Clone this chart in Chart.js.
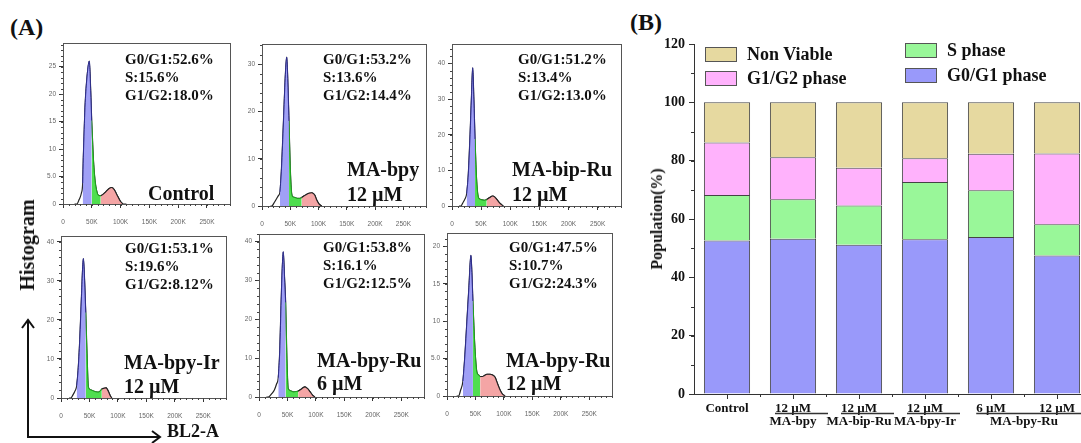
<!DOCTYPE html>
<html><head><meta charset="utf-8">
<script src="https://cdn.jsdelivr.net/npm/chart.js@4.4.1/dist/chart.umd.min.js"></script>
<style>
html,body{margin:0;padding:0;background:#fff;}
body{width:1081px;height:443px;overflow:hidden;position:relative;font-family:"Liberation Serif","Times New Roman",serif;}
canvas{position:absolute;}
.t{position:absolute;font-weight:bold;color:#111;white-space:nowrap;}
.st{font-size:15px;line-height:18px;}
.big{font-size:20px;line-height:25px;}
.sw{position:absolute;border:1px solid #555;box-sizing:border-box;width:32px;height:15px;}
.lg{position:absolute;font-weight:bold;font-size:18px;line-height:1;color:#111;white-space:nowrap;}
</style></head><body>
<div class="t" style="left:10px;top:15px;font-size:24px;line-height:1;">(A)</div>
<div class="t" style="left:630px;top:10px;font-size:24px;line-height:1;">(B)</div>

<canvas id="h1"></canvas><canvas id="h2"></canvas><canvas id="h3"></canvas>
<canvas id="h4"></canvas><canvas id="h5"></canvas><canvas id="h6"></canvas>
<canvas id="bars"></canvas>

<div class="t st" style="left:125px;top:50px;">G0/G1:52.6%<br>S:15.6%<br>G1/G2:18.0%</div>
<div class="t st" style="left:323px;top:50px;">G0/G1:53.2%<br>S:13.6%<br>G1/G2:14.4%</div>
<div class="t st" style="left:518px;top:50px;">G0/G1:51.2%<br>S:13.4%<br>G1/G2:13.0%</div>
<div class="t st" style="left:125px;top:239px;">G0/G1:53.1%<br>S:19.6%<br>G1/G2:8.12%</div>
<div class="t st" style="left:323px;top:238px;">G0/G1:53.8%<br>S:16.1%<br>G1/G2:12.5%</div>
<div class="t st" style="left:509px;top:238px;">G0/G1:47.5%<br>S:10.7%<br>G1/G2:24.3%</div>

<div class="t big" style="left:148px;top:181px;">Control</div>
<div class="t big" style="left:347px;top:157px;">MA-bpy<br>12 µM</div>
<div class="t big" style="left:512px;top:157px;">MA-bip-Ru<br>12 µM</div>
<div class="t big" style="left:124px;top:350px;line-height:24px;">MA-bpy-Ir<br>12 µM</div>
<div class="t big" style="left:317px;top:349px;line-height:23px;">MA-bpy-Ru<br>6 µM</div>
<div class="t big" style="left:506px;top:349px;line-height:23px;">MA-bpy-Ru<br>12 µM</div>

<div class="t" style="left:27px;top:245px;font-size:20px;line-height:1;transform:translate(-50%,-50%) rotate(-90deg);">Histogram</div>
<div class="t" style="left:167px;top:422px;font-size:18px;line-height:1;">BL2-A</div>
<svg style="position:absolute;left:0;top:0;" width="200" height="443">
  <polyline points="28,320 28,437 160,437" fill="none" stroke="#111" stroke-width="2"/>
  <polyline points="22,328 28,320 34,328" fill="none" stroke="#111" stroke-width="2"/>
  <polyline points="152,431 160,437 152,443" fill="none" stroke="#111" stroke-width="2"/>
</svg>
<div class="t" style="left:657px;top:219px;font-size:16px;line-height:1;transform:translate(-50%,-50%) rotate(-90deg);">Population(%)</div>
<div id="legend"></div>

<script>
// ---------- Panel A: histogram data (x in K of BL2-A, y = count) ----------
const ctrlX = [20, 24, 28, 32, 34.2, 35.3, 38.2, 41.1, 45.7, 48.1, 49.8, 52.6, 55.6, 58.5, 61.3, 65.5, 70, 75, 80, 84.6, 89, 94, 99, 104, 110];
const ctrlY = [0, 0, 0.8, 2, 3.8, 8.5, 17.6, 22.4, 26, 20.6, 15.2, 8.5, 4.3, 2.4, 1.6, 1.5, 1.8, 2.3, 2.8, 3, 2.6, 1.6, 0.6, 0, 0];
const ctrlGates = [34.2, 49.8, 65.5, 104];

const bpyX = [15, 17.2, 22, 26, 29, 31.8, 34.5, 38, 41, 43.7, 45.5, 47.7, 50, 52.5, 55, 58.3, 63, 67.2, 70.2, 74, 77.8, 83, 87.9, 91, 93.7, 97, 101, 105.6];
const bpyY = [0, 0, 0.8, 1.6, 2.2, 3, 8, 18, 27, 31.5, 27, 18, 8, 2.6, 1.9, 1.8, 1.6, 1.6, 1.8, 2.1, 2.4, 2.7, 2.8, 2.6, 2.2, 1.2, 0.4, 0];
const bpyGates = [31.8, 47.7, 70.2, 105.6];

const bipX = [12, 14.9, 19, 22.3, 25.2, 28, 31, 33.5, 35.5, 37.5, 39.5, 42, 45.1, 48, 51.5, 55.5, 59.5, 64, 69.8, 73.5, 77.2, 82, 88];
const bipY = [0, 0, 1, 2, 3.5, 9, 20, 31, 38.8, 30, 18.8, 8, 2.5, 1.9, 1.7, 1.6, 1.8, 2.3, 2.8, 2.5, 1.8, 0.8, 0];
const bipGates = [25.2, 39.5, 59.5, 88];

const irX = [14, 17.1, 21, 24, 26.4, 27.6, 30, 33, 36, 39.3, 41.5, 43.5, 46, 48.1, 52, 56.9, 61, 65.7, 69, 71.7, 75.5, 79.2, 81.5, 83.6, 86.5, 89.3];
const irY = [0, 0, 0.8, 1.6, 2.4, 3.2, 7, 15, 26, 35.7, 30, 21.9, 10, 2.8, 2.1, 1.8, 1.6, 1.5, 1.8, 2.3, 2.5, 2.6, 2.2, 1.6, 0.6, 0];
const irGates = [27.6, 43.5, 71.7, 89.3];

const ru6X = [13, 16.3, 22, 27, 31, 33.9, 36.5, 39, 42.6, 44.8, 46.8, 49, 51.4, 55.5, 60.2, 64.5, 68.9, 74, 77.5, 80.7, 85, 89.5, 94, 98.2];
const ru6Y = [0, 0, 0.8, 1.8, 3.4, 5, 12, 25, 37.4, 31, 24.4, 10, 2.1, 1.6, 1.3, 1.4, 1.5, 2, 2.4, 2.6, 2.2, 1.4, 0.5, 0];
const ru6Gates = [33.9, 46.8, 68.9, 98.2];

const ru12X = [17, 20.3, 24, 28, 31.5, 35, 38.5, 42, 43.7, 45.5, 49, 52.5, 55.5, 58.3, 62, 66, 70, 75.8, 80, 84.5, 89, 93.3, 97, 102];
const ru12Y = [0, 0, 0.8, 2, 5.5, 10, 14.5, 18.8, 16.5, 12.7, 6.5, 3.2, 2.8, 2.6, 2.6, 2.75, 2.9, 2.9, 2.8, 2.5, 1.6, 0.8, 0.3, 0];
const ru12Gates = [28, 45.5, 58.3, 102];

const histXTicks = [0, 50, 100, 150, 200, 250];

// ---------- Panel B: stacked bar data ----------
const categories = ['Control', '12 µM', '12 µM', '12 µM', '6 µM', '12 µM'];
const g0g1 = [52.6, 53.2, 51.2, 53.1, 53.8, 47.5];
const sPhase = [15.6, 13.6, 13.4, 19.6, 16.1, 10.7];
const g1g2 = [18.0, 14.4, 13.0, 8.12, 12.5, 24.3];
const nonViable = [13.8, 18.8, 22.4, 19.18, 17.6, 17.5];
const groupLabels = ['MA-bpy', 'MA-bip-Ru', 'MA-bpy-Ir', 'MA-bpy-Ru'];
const groupStart = [1, 2, 3, 4];
const groupEnd = [1, 2, 3, 5];
const barYTicks = [0, 20, 40, 60, 80, 100, 120];

// ---------- plugins ----------
const minorTicks = {
  id: 'minorTicks',
  afterDraw(chart, args, o) {
    const ctx = chart.ctx, ca = chart.chartArea;
    ctx.save(); ctx.strokeStyle = o.color || '#333'; ctx.lineWidth = 1;
    ['x', 'y'].forEach(k => {
      const step = o[k]; if (!step) return;
      const sc = chart.scales[k]; const len = o.len || 2;
      const ps = [];
      if (sc.type === 'category') {
        const n = sc.getLabels().length;
        for (let i = 1; i < n; i++) ps.push((sc.getPixelForValue(i - 1) + sc.getPixelForValue(i)) / 2);
      } else {
        const n = Math.floor((sc.max - sc.min) / step + 1e-6);
        for (let i = 0; i <= n; i++) ps.push(sc.getPixelForValue(sc.min + i * step));
      }
      ps.forEach(p => {
        p = Math.round(p) + 0.5;
        ctx.beginPath();
        if (k === 'x') { ctx.moveTo(p, ca.bottom); ctx.lineTo(p, ca.bottom + len); }
        else { ctx.moveTo(ca.left - len, p); ctx.lineTo(ca.left, p); }
        ctx.stroke();
      });
    });
    ctx.restore();
  }
};
const frame = {
  id: 'frame',
  afterDatasetsDraw(chart, args, o) {
    if (!o.on) return;
    const ctx = chart.ctx, ca = chart.chartArea;
    ctx.save(); ctx.strokeStyle = '#555'; ctx.lineWidth = 1;
    ctx.strokeRect(Math.round(ca.left) + 0.5, Math.round(ca.top) + 0.5, Math.round(ca.right - ca.left), Math.round(ca.bottom - ca.top));
    ctx.restore();
  }
};

function place(canvas, left, top, w, h) {
  canvas.width = w; canvas.height = h;
  canvas.style.left = left + 'px'; canvas.style.top = top + 'px';
  canvas.style.width = w + 'px'; canvas.style.height = h + 'px';
}

const sansTick = { family: '"Liberation Sans", Arial, sans-serif', size: 6.5 };

function histChart(id, box, xs, ys, gates, yMax, yStep) {
  const [L, T, R, B] = box;
  const padL = 30, padT = 6, padR = 6, padB = 26;
  const cv = document.getElementById(id);
  place(cv, L - padL, T - padT, R - L + padL + padR, B - T + padT + padB);
  const pts = xs.map((x, i) => ({ x: x, y: ys[i] }));
  const seg = (a, b) => pts.filter(p => p.x >= a - 1e-9 && p.x <= b + 1e-9);
  new Chart(cv, {
    type: 'line',
    data: {
      datasets: [
        { label: 'G0/G1', data: seg(gates[0], gates[1]), fill: 'origin', backgroundColor: 'rgba(150,150,245,0.9)', borderColor: '#2c2c8e', borderWidth: 1, order: 1 },
        { label: 'S', data: seg(gates[1], gates[2]), fill: 'origin', backgroundColor: 'rgba(70,220,70,0.95)', borderColor: '#1ea51e', borderWidth: 1, order: 1 },
        { label: 'G2', data: seg(gates[2], gates[3]), fill: 'origin', backgroundColor: 'rgba(243,160,160,0.95)', borderColor: '#222', borderWidth: 1.1, order: 1 },
        { label: 'Total', data: pts, fill: false, borderColor: '#222', borderWidth: 1.2, order: 2 }
      ]
    },
    options: {
      responsive: false, animation: false, events: [],
      layout: { padding: { left: 0, top: padT, right: padR, bottom: 0 } },
      elements: { point: { radius: 0 }, line: { cubicInterpolationMode: 'monotone' } },
      plugins: { legend: { display: false }, tooltip: { enabled: false },
        minorTicks: { x: 10, y: yStep / 5, len: 2, color: '#444' }, frame: { on: true } },
      scales: {
        x: { type: 'linear', min: 0, max: 290,
          afterBuildTicks: s => { s.ticks = histXTicks.map(v => ({ value: v })); },
          ticks: { callback: v => v === 0 ? '0' : v + 'K', color: '#666', font: sansTick, padding: 10, maxRotation: 0, autoSkip: false },
          grid: { display: true, drawOnChartArea: false, tickLength: 4, color: '#333' },
          border: { display: false },
          afterFit: s => { s.height = padB; } },
        y: { type: 'linear', min: 0, max: yMax,
          ticks: { stepSize: yStep, includeBounds: false, callback: v => (v > 0 && v < 10) ? v.toFixed(1) : String(v), color: '#666', font: sansTick, padding: 3 },
          grid: { display: true, drawOnChartArea: false, tickLength: 4, color: '#333' },
          border: { display: false },
          afterFit: s => { s.width = padL; } }
      }
    },
    plugins: [minorTicks, frame]
  });
}

histChart('h1', [63, 42, 230, 204], ctrlX, ctrlY, ctrlGates, 29.3, 5);
histChart('h2', [262, 43, 426, 206], bpyX, bpyY, bpyGates, 34.3, 10);
histChart('h3', [452, 43, 621, 206], bipX, bipY, bipGates, 45.5, 10);
histChart('h4', [61, 235, 226, 398], irX, irY, irGates, 41.5, 10);
histChart('h5', [259, 233, 424, 397], ru6X, ru6Y, ru6Gates, 42, 10);
histChart('h6', [447, 232, 612, 396], ru12X, ru12Y, ru12Gates, 21.8, 5);

// ---------- Panel B ----------
const serif = '"Liberation Serif", "Times New Roman", serif';
const barSets = [
  { label: 'G0/G1 phase', data: g0g1, backgroundColor: '#9999fa' },
  { label: 'S phase', data: sPhase, backgroundColor: '#99f799' },
  { label: 'G1/G2 phase', data: g1g2, backgroundColor: '#ffb2fc' },
  { label: 'Non Viable', data: nonViable, backgroundColor: '#e6d9a0' }
];
const groupPlugin = {
  id: 'groups',
  afterDraw(chart) {
    const ctx = chart.ctx, sx = chart.scales.x, b = chart.chartArea.bottom;
    ctx.save();
    ctx.font = 'bold 13px ' + serif; ctx.fillStyle = '#111'; ctx.strokeStyle = '#333'; ctx.lineWidth = 1.3;
    ctx.textAlign = 'center'; ctx.textBaseline = 'middle';
    groupLabels.forEach((g, i) => {
      const c1 = sx.getPixelForValue(groupStart[i]), c2 = sx.getPixelForValue(groupEnd[i]);
      const w = ctx.measureText(categories[groupStart[i]]).width;
      ctx.beginPath(); ctx.moveTo(c1 - w / 2, b + 19.5); ctx.lineTo(c2 + 35, b + 19.5); ctx.stroke();
      ctx.fillText(g, (c1 + c2) / 2, b + 28);
    });
    ctx.restore();
  }
};
const bc = document.getElementById('bars');
place(bc, 630, 30, 470, 413);
new Chart(bc, {
  type: 'bar',
  data: {
    labels: categories,
    datasets: barSets.map(d => Object.assign({ borderColor: '#444', borderWidth: 1, borderSkipped: 'start', barPercentage: 0.7, categoryPercentage: 1 }, d))
  },
  options: {
    responsive: false, animation: false, events: [],
    layout: { padding: { left: 0, top: 14, right: 10, bottom: 0 } },
    plugins: { legend: { display: false }, tooltip: { enabled: false }, minorTicks: { x: 1, y: 10, len: 3, color: '#333' } },
    scales: {
      x: { stacked: true, offset: true,
        ticks: { color: '#111', font: { family: serif, size: 13, weight: 'bold' }, padding: 2, maxRotation: 0, autoSkip: false },
        grid: { display: true, offset: false, drawOnChartArea: false, tickLength: 5, color: '#333' },
        border: { display: true, color: '#333', width: 1 },
        afterFit: s => { s.height = 49; } },
      y: { stacked: true, min: 0, max: 120,
        afterBuildTicks: s => { s.ticks = barYTicks.map(v => ({ value: v })); },
        ticks: { color: '#111', font: { family: serif, size: 14, weight: 'bold' }, padding: 4 },
        grid: { display: true, drawOnChartArea: false, tickLength: 5, color: '#333' },
        border: { display: true, color: '#333', width: 1 },
        afterFit: s => { s.width = 64; } }
    }
  },
  plugins: [minorTicks, groupPlugin]
});

// legend (two columns, reverse of stacking order)
const legendPos = { 'Non Viable': [705, 47], 'G1/G2 phase': [705, 71], 'S phase': [905, 43], 'G0/G1 phase': [905, 68] };
const lg = document.getElementById('legend');
barSets.slice().reverse().forEach(d => {
  const [x, y] = legendPos[d.label];
  const sw = document.createElement('div'); sw.className = 'sw';
  sw.style.left = x + 'px'; sw.style.top = y + 'px'; sw.style.background = d.backgroundColor;
  lg.appendChild(sw);
  const tx = document.createElement('div'); tx.className = 'lg'; tx.textContent = d.label;
  tx.style.left = (x + 42) + 'px'; tx.style.top = (y - 2) + 'px';
  lg.appendChild(tx);
});
</script>
</body></html>
